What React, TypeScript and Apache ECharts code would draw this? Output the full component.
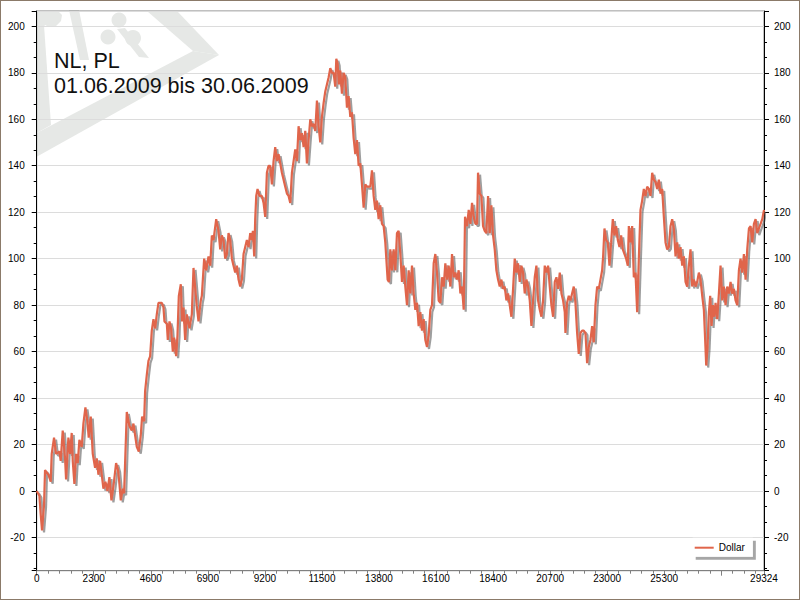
import React, { useEffect, useRef } from "react";
import * as echarts from "echarts";

const titleLines = ["NL, PL", "01.06.2009 bis 30.06.2009"];
const seriesName = "Dollar";
const xMin = 0;
const xMax = 29324;
const xStep = 2300;
const hiddenXLabels = [27600];
const yMin = -34.3;
const yMax = 206.6;
const yLabelStep = 20;

// [sample index, dollar]
const segmentRise: [number, number][] = [
  [0, 0], [108, -2], [161, -10], [215, -17], [296, -6], [336, 9], [471, 7], [565, 4], [605, 16], [699, 23],
  [780, 16], [915, 17], [968, 13], [1049, 26], [1143, 14], [1184, 5], [1278, 23], [1345, 16], [1412, 25], [1453, 13],
  [1520, 3], [1587, 16], [1654, 12], [1722, 22], [1816, 19], [1883, 29], [1964, 36], [2044, 30], [2098, 23], [2179, 32],
  [2260, 16], [2354, 10], [2421, 14], [2488, 7], [2556, 13], [2623, 7], [2690, 1], [2771, 4], [2851, 0], [2932, 6],
  [3013, -4], [3094, 2], [3201, 12], [3282, 9], [3336, 3], [3389, -4], [3470, 1], [3524, -1], [3632, 34], [3739, 28],
  [3833, 26], [3901, 29], [3968, 24], [4035, 19], [4116, 17], [4196, 24], [4250, 32], [4331, 30], [4371, 43], [4439, 50],
  [4506, 56], [4573, 58], [4640, 69], [4708, 74], [4775, 70], [4842, 76], [4909, 81], [5044, 81], [5111, 79], [5151, 73],
  [5246, 72], [5286, 65], [5353, 73], [5420, 70], [5488, 60], [5541, 66], [5622, 58], [5676, 67], [5730, 84], [5810, 89],
  [5864, 73], [5918, 79], [5985, 65], [6053, 76], [6160, 70], [6254, 76], [6322, 96], [6450, 80], [6523, 73], [6617, 82],
];

const segmentPeak: [number, number][] = [
  [6658, 84], [6752, 100], [6833, 95], [6927, 101], [6995, 97], [7062, 110], [7129, 108], [7237, 117], [7331, 112], [7398, 104],
  [7465, 110], [7533, 108], [7600, 100], [7667, 102], [7734, 111], [7802, 108], [7869, 100], [7936, 97], [8003, 94], [8071, 97],
  [8138, 91], [8205, 88], [8272, 91], [8340, 102], [8407, 105], [8474, 108], [8541, 105], [8609, 111], [8676, 108], [8716, 112],
  [8770, 101], [8810, 117], [8851, 127], [8904, 130], [8985, 127], [9079, 127], [9147, 124], [9214, 118], [9281, 137], [9348, 140],
  [9416, 140], [9483, 132], [9550, 142], [9617, 148], [9685, 142], [9752, 145], [9819, 141], [9886, 137], [9954, 134], [10021, 131],
  [10088, 128], [10155, 127], [10223, 124], [10290, 137], [10357, 142], [10424, 147], [10492, 142], [10559, 157], [10626, 151], [10693, 154],
  [10761, 148], [10828, 155], [10895, 141], [10962, 151], [11030, 160], [11097, 157], [11164, 158], [11231, 155], [11299, 168], [11366, 157],
  [11433, 150], [11500, 161], [11568, 167], [11635, 172], [11702, 175], [11769, 178], [11837, 182], [11904, 180], [11971, 180], [12038, 174],
  [12079, 186], [12132, 184], [12186, 175], [12240, 181], [12307, 171], [12375, 180], [12442, 178], [12509, 165], [12576, 170], [12644, 161],
  [12711, 163], [12778, 152], [12845, 145], [12913, 151], [12980, 140], [13047, 141], [13114, 132], [13182, 122], [13249, 132], [13316, 131],
  [13383, 131], [13451, 131],
];

const segmentMiddle: [number, number][] = [
  [13517, 138], [13585, 127], [13652, 121], [13719, 125], [13786, 117], [13854, 123], [13921, 115], [13988, 114], [14055, 107], [14096, 100],
  [14149, 91], [14203, 90], [14257, 104], [14324, 95], [14392, 104], [14459, 95], [14526, 111], [14593, 112], [14661, 102], [14728, 90],
  [14795, 97], [14862, 88], [14930, 80], [14997, 95], [15064, 85], [15131, 97], [15199, 85], [15266, 78], [15333, 81], [15400, 71],
  [15468, 77], [15535, 69], [15602, 74], [15669, 65], [15737, 62], [15804, 67], [15871, 78], [15938, 80], [16006, 98], [16073, 102],
  [16140, 94], [16207, 82], [16275, 81], [16342, 92], [16409, 88], [16476, 98], [16544, 91], [16611, 97], [16678, 88], [16745, 102],
  [16813, 92], [16880, 94], [16947, 91], [17014, 95], [17082, 85], [17149, 88], [17216, 78], [17270, 118], [17351, 114], [17418, 121],
  [17485, 115], [17552, 124], [17620, 118], [17687, 115], [17754, 115], [17794, 137], [17862, 128], [17929, 127], [17996, 114], [18063, 112],
  [18131, 111], [18198, 127], [18265, 111], [18332, 123], [18400, 110], [18467, 104], [18534, 95], [18601, 91], [18669, 88], [18736, 91],
  [18803, 87], [18870, 88], [18938, 82], [19005, 85], [19072, 80], [19139, 75], [19207, 87], [19274, 100], [19341, 94], [19408, 98],
  [19476, 90], [19543, 97], [19610, 94], [19677, 85], [19745, 91], [19812, 88], [19879, 82], [19946, 71], [20014, 82], [20081, 92],
  [20148, 97], [20215, 82], [20283, 78], [20350, 75], [20417, 82], [20484, 97], [20552, 94], [20619, 97], [20686, 88], [20753, 80],
  [20821, 75], [20888, 90], [20955, 92], [21022, 87], [21090, 94], [21157, 85], [21224, 82], [21291, 77],
];

const segmentLate: [number, number][] = [
  [21318, 68], [21385, 81], [21453, 84], [21520, 82], [21587, 85], [21654, 88], [21722, 81], [21789, 68], [21856, 59], [21923, 68],
  [21991, 69], [22058, 69], [22125, 68], [22192, 55], [22260, 62], [22327, 65], [22394, 71], [22461, 64], [22529, 80], [22596, 88],
  [22663, 87], [22730, 91], [22798, 95], [22838, 101], [22892, 113], [22959, 108], [23026, 107], [23093, 97], [23161, 107], [23228, 117],
  [23295, 110], [23362, 114], [23430, 108], [23497, 105], [23564, 110], [23631, 104], [23699, 102], [23766, 100], [23833, 97], [23874, 114],
  [23941, 107], [24008, 114], [24075, 92], [24143, 94], [24210, 77], [24277, 100], [24344, 121], [24412, 125], [24479, 130], [24546, 127],
  [24613, 131], [24681, 130], [24748, 127], [24815, 137], [24882, 134], [24950, 133], [25017, 130], [25084, 134], [25151, 128], [25219, 130],
  [25286, 118], [25353, 107], [25420, 104], [25488, 105], [25555, 114], [25622, 117], [25689, 113], [25757, 101], [25824, 107], [25891, 100],
  [25958, 105], [26026, 97], [26093, 101], [26160, 90], [26227, 88], [26295, 97], [26362, 104], [26429, 88], [26496, 91], [26564, 88],
  [26631, 90], [26698, 94], [26765, 91], [26833, 84], [26900, 78], [26940, 68], [26994, 54], [27048, 62], [27102, 77], [27155, 84],
  [27209, 71], [27263, 80], [27317, 75], [27371, 81], [27438, 74], [27505, 85], [27572, 97], [27640, 82], [27707, 88], [27774, 80],
  [27841, 88], [27909, 85], [27976, 90], [28043, 85], [28110, 87], [28178, 82], [28245, 80], [28312, 95], [28379, 100], [28447, 94],
  [28514, 102], [28581, 91], [28648, 104], [28716, 113], [28783, 114], [28850, 107], [28917, 115], [28985, 117], [29052, 111], [29119, 113],
  [29186, 115], [29254, 117], [29324, 121],
];

const dollar = [...segmentRise, ...segmentPeak, ...segmentMiddle, ...segmentLate];

const FONT = "Liberation Sans, Arial, sans-serif";
const WM = "#e6e8e6";

export default function App() {
  const ref = useRef<HTMLDivElement>(null);

  useEffect(() => {
    document.body.style.margin = "0";
    if (!ref.current) return;
    const chart = echarts.init(ref.current, null, { renderer: "svg" });

    const yAxis = (pos: "left" | "right") => ({
      type: "value",
      position: pos,
      min: yMin,
      max: yMax,
      splitNumber: 12,
      axisLine: { show: true, onZero: false, lineStyle: { color: "#000", width: 1 } },
      axisTick: { show: true, length: 5, lineStyle: { color: "#000" } },
      minorTick: { show: true, splitNumber: 3, length: 3, lineStyle: { color: "#000" } },
      axisLabel: {
        fontFamily: FONT,
        fontSize: 10,
        color: "#000",
        margin: pos === "left" ? 12 : 10,
        showMinLabel: true,
        showMaxLabel: true,
        formatter: (v: number) =>
          Math.abs(v / yLabelStep - Math.round(v / yLabelStep)) < 1e-6 ? String(Math.round(v)) : "",
      },
      splitLine: { show: pos === "left", lineStyle: { color: "#dcdcdc", width: 1 } },
      minorSplitLine: { show: false },
    });

    chart.setOption({
      animation: false,
      backgroundColor: "#fff",
      grid: {
        left: 35.7,
        top: 10,
        right: 35,
        bottom: 28.3,
        show: true,
        borderColor: "#808080",
        borderWidth: 1,
        backgroundColor: "transparent",
        containLabel: false,
      },
      xAxis: {
        type: "value",
        min: xMin,
        max: xMax,
        interval: xStep,
        axisLine: { show: true, onZero: false, lineStyle: { color: "#808080" } },
        axisTick: { show: true, length: 5, lineStyle: { color: "#808080" } },
        minorTick: { show: true, splitNumber: 5, length: 3, lineStyle: { color: "#808080" } },
        axisLabel: {
          fontFamily: FONT,
          fontSize: 10,
          color: "#000",
          margin: 3,
          showMinLabel: true,
          showMaxLabel: true,
          formatter: (v: number) => (hiddenXLabels.includes(v) ? "" : String(v)),
        },
        splitLine: { show: false },
      },
      yAxis: [yAxis("left"), yAxis("right")],
      legend: {
        data: [{ name: seriesName, icon: "rect" }],
        left: 691.7,
        top: 536.7,
        orient: "horizontal",
        itemWidth: 19,
        itemHeight: 2,
        itemGap: 0,
        padding: [5, 8, 4, 2],
        backgroundColor: "#fff",
        borderWidth: 0,
        shadowColor: "rgba(0,0,0,0.35)",
        shadowOffsetX: 3,
        shadowOffsetY: 3,
        shadowBlur: 0,
        textStyle: { fontFamily: FONT, fontSize: 10, color: "#000" },
      },
      graphic: [
        { type: "polygon", z: -1, silent: true, shape: { points: [[35.7, 10], [57, 10], [61, 14], [60, 20], [55, 25], [48, 26], [44, 24], [42, 28], [35.7, 28]] }, style: { fill: WM } },
        { type: "polygon", z: -1, silent: true, shape: { points: [[35.7, 10], [42, 10], [50, 124], [35.7, 132]] }, style: { fill: WM } },
        { type: "polygon", z: -1, silent: true, shape: { points: [[68, 9], [78, 9], [88, 59], [79, 59]] }, style: { fill: WM } },
        { type: "polygon", z: -1, silent: true, shape: { points: [[146, 10], [176, 10], [218, 54], [192, 50]] }, style: { fill: WM } },
        { type: "polygon", z: -1, silent: true, shape: { points: [[192, 50], [218, 54], [35.7, 155.7], [35.7, 132]] }, style: { fill: WM } },
        { type: "circle", z: -1, silent: true, shape: { cx: 118, cy: 19, r: 7.5 }, style: { fill: WM } },
        { type: "circle", z: -1, silent: true, shape: { cx: 107, cy: 36, r: 7.5 }, style: { fill: WM } },
        { type: "circle", z: -1, silent: true, shape: { cx: 132, cy: 37, r: 8 }, style: { fill: WM } },
        { type: "polygon", z: -1, silent: true, shape: { points: [[116, 28], [124, 27], [148, 57], [138, 56]] }, style: { fill: WM } },
        {
          type: "text",
          z: 10,
          silent: true,
          x: 53,
          y: 47,
          style: {
            text: titleLines.join("\n"),
            font: `21.5px ${FONT}`,
            fill: "#111",
            lineHeight: 25,
            textVerticalAlign: "top",
          },
        },
      ],
      series: [
        {
          name: seriesName,
          type: "line",
          data: dollar,
          yAxisIndex: 0,
          showSymbol: false,
          symbol: "none",
          z: 3,
          itemStyle: { color: "#e0654b" },
          lineStyle: {
            color: "#e0654b",
            width: 2.2,
            shadowColor: "rgba(80,80,80,0.55)",
            shadowOffsetX: 2,
            shadowOffsetY: 2,
            shadowBlur: 1.5,
          },
        },
      ],
    });

    return () => chart.dispose();
  }, []);

  return (
    <div
      style={{
        width: 800,
        height: 600,
        boxSizing: "border-box",
        border: "1px solid #8b7a69",
        background: "#fff",
      }}
    >
      <div ref={ref} style={{ width: 798, height: 598 }} />
    </div>
  );
}
